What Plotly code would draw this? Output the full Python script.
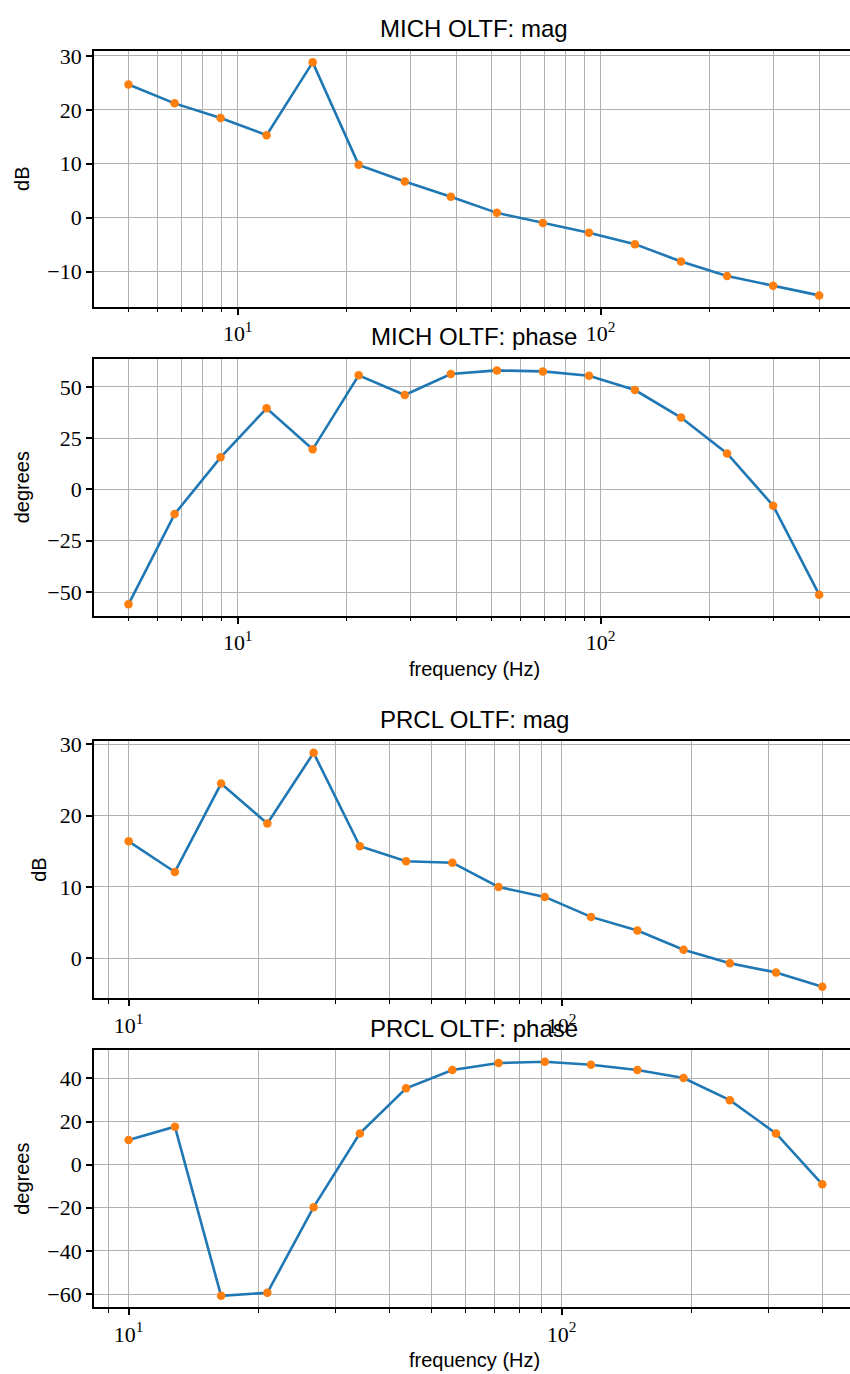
import plotly.graph_objects as go

# ---------------- data ----------------
mich_freq = [5.0, 6.70, 8.97, 12.01, 16.09, 21.54, 28.86, 38.65, 51.76, 69.32,
             92.84, 124.3, 166.5, 223.0, 298.7, 400.0]
mich_mag = [24.7, 21.2, 18.5, 15.3, 28.8, 9.8, 6.7, 3.9, 0.9, -1.0,
            -2.8, -4.9, -8.1, -10.8, -12.6, -14.4]
mich_phase = [-56.0, -12.0, 15.7, 39.6, 19.6, 55.7, 46.1, 56.3, 58.1, 57.6,
              55.5, 48.5, 35.1, 17.6, -7.9, -51.3]

prcl_freq = [10.0, 12.79, 16.35, 20.91, 26.74, 34.20, 43.73, 55.92, 71.51, 91.45,
             116.9, 149.6, 191.2, 244.6, 312.7, 400.0]
prcl_mag = [16.4, 12.1, 24.5, 18.9, 28.8, 15.7, 13.6, 13.4, 10.0, 8.6,
            5.8, 3.9, 1.2, -0.7, -2.0, -4.0]
prcl_phase = [11.4, 17.6, -60.8, -59.4, -19.7, 14.5, 35.4, 43.9, 47.1, 47.7,
              46.3, 43.9, 40.2, 29.9, 14.5, -9.1]

titles = ["MICH OLTF: mag", "MICH OLTF: phase", "PRCL OLTF: mag", "PRCL OLTF: phase"]
ylabels = ["dB", "degrees", "dB", "degrees"]
xlabel = "frequency (Hz)"
major_x = [10, 100]
major_x_text = ["10<sup>1</sup>", "10<sup>2</sup>"]
ticks_mich_mag = [-10, 0, 10, 20, 30]
ticks_mich_phase = [-50, -25, 0, 25, 50]
ticks_prcl_mag = [0, 10, 20, 30]
ticks_prcl_phase = [-60, -40, -20, 0, 20, 40]

# ---------------- layout geometry (pixels) ----------------
W, H = 850, 1374
LEFT = 94
panels = [
    # (freq, values, yticks, xrange(log), yrange, top_px, bottom_px, ylabel_x)
    (mich_freq, mich_mag, ticks_mich_mag, [0.604, 2.687], [-16.56, 30.96], 42, 300, 22),
    (mich_freq, mich_phase, ticks_mich_phase, [0.604, 2.687], [-61.7, 63.8], 352, 611, 22),
    (prcl_freq, prcl_mag, ticks_prcl_mag, [0.920, 2.666], [-5.64, 30.44], 737, 996, 39),
    (prcl_freq, prcl_phase, ticks_prcl_phase, [0.920, 2.666], [-66.2, 53.1], 1048, 1307, 22),
]

def py(p):
    return 1 - p / H

GRID = "#b0b0b0"
SERIF = "Liberation Serif"
SANS = "Liberation Sans"

fig = go.Figure()
annotations = []
layout = dict(
    width=W, height=H,
    margin=dict(l=0, r=0, t=0, b=0),
    paper_bgcolor="white", plot_bgcolor="white",
    showlegend=False,
)

for i, (fx, fy, yt, xr, yr, top, bot, ylx) in enumerate(panels):
    n = "" if i == 0 else str(i + 1)
    xa, ya = "x" + n, "y" + n
    lo = 10 ** xr[0]
    hi = 10 ** xr[1]
    minor_vals = []
    for dec in [1, 10, 100]:
        for m in range(2, 10):
            v = m * dec
            if lo <= v <= hi and v not in major_x:
                minor_vals.append(v)
    layout["xaxis" + n] = dict(
        type="log", range=xr, domain=[LEFT / W, 1.0], anchor=ya,
        tickmode="array", tickvals=major_x, ticktext=major_x_text,
        ticks="outside", ticklen=6, tickwidth=1.5, tickcolor="black",
        showline=True, linecolor="black", linewidth=1.8, mirror=True,
        showgrid=True, gridcolor=GRID, gridwidth=1,
        minor=dict(tickmode="array", tickvals=minor_vals, ticks="outside", ticklen=3.5,
                   tickwidth=1, tickcolor="black", showgrid=True, gridcolor=GRID, gridwidth=1),
        tickfont=dict(family=SERIF, size=22, color="black"),
        zeroline=False,
    )
    layout["yaxis" + n] = dict(
        range=yr, domain=[py(bot), py(top)], anchor=xa,
        tickmode="array", tickvals=yt,
        ticks="outside", ticklen=6, tickwidth=1.5, tickcolor="black",
        showline=True, linecolor="black", linewidth=1.8, mirror=False,
        showgrid=True, gridcolor=GRID, gridwidth=1,
        tickfont=dict(family=SERIF, size=22, color="black"),
        zeroline=False,
    )
    fig.add_trace(go.Scatter(x=fx, y=fy, mode="lines", xaxis=xa, yaxis=ya,
                             line=dict(color="#1f77b4", width=2.6), hoverinfo="skip"))
    fig.add_trace(go.Scatter(x=fx, y=fy, mode="markers", xaxis=xa, yaxis=ya,
                             marker=dict(color="#ff7f0e", size=8.5, line=dict(width=0))))
    # title
    annotations.append(dict(
        text=titles[i], xref="paper", yref="paper", x=(LEFT + 854) / 2 / W,
        y=py(top - 22), xanchor="center", yanchor="middle", showarrow=False,
        font=dict(family=SANS, size=24, color="black")))
    # y label
    annotations.append(dict(
        text=ylabels[i], xref="paper", yref="paper", x=ylx / W,
        y=py((top + bot) / 2), xanchor="center", yanchor="middle", showarrow=False,
        textangle=-90, font=dict(family=SANS, size=20, color="black")))

for yc in [664, 1360]:
    annotations.append(dict(
        text=xlabel, xref="paper", yref="paper", x=(LEFT + 854) / 2 / W,
        y=py(yc), xanchor="center", yanchor="middle", showarrow=False,
        font=dict(family=SANS, size=20, color="black")))

layout["annotations"] = annotations
fig.update_layout(**layout)
fig.write_html("out.html", config={"displayModeBar": False},
               post_script="document.body.style.margin='0';document.body.style.overflow='hidden';")
